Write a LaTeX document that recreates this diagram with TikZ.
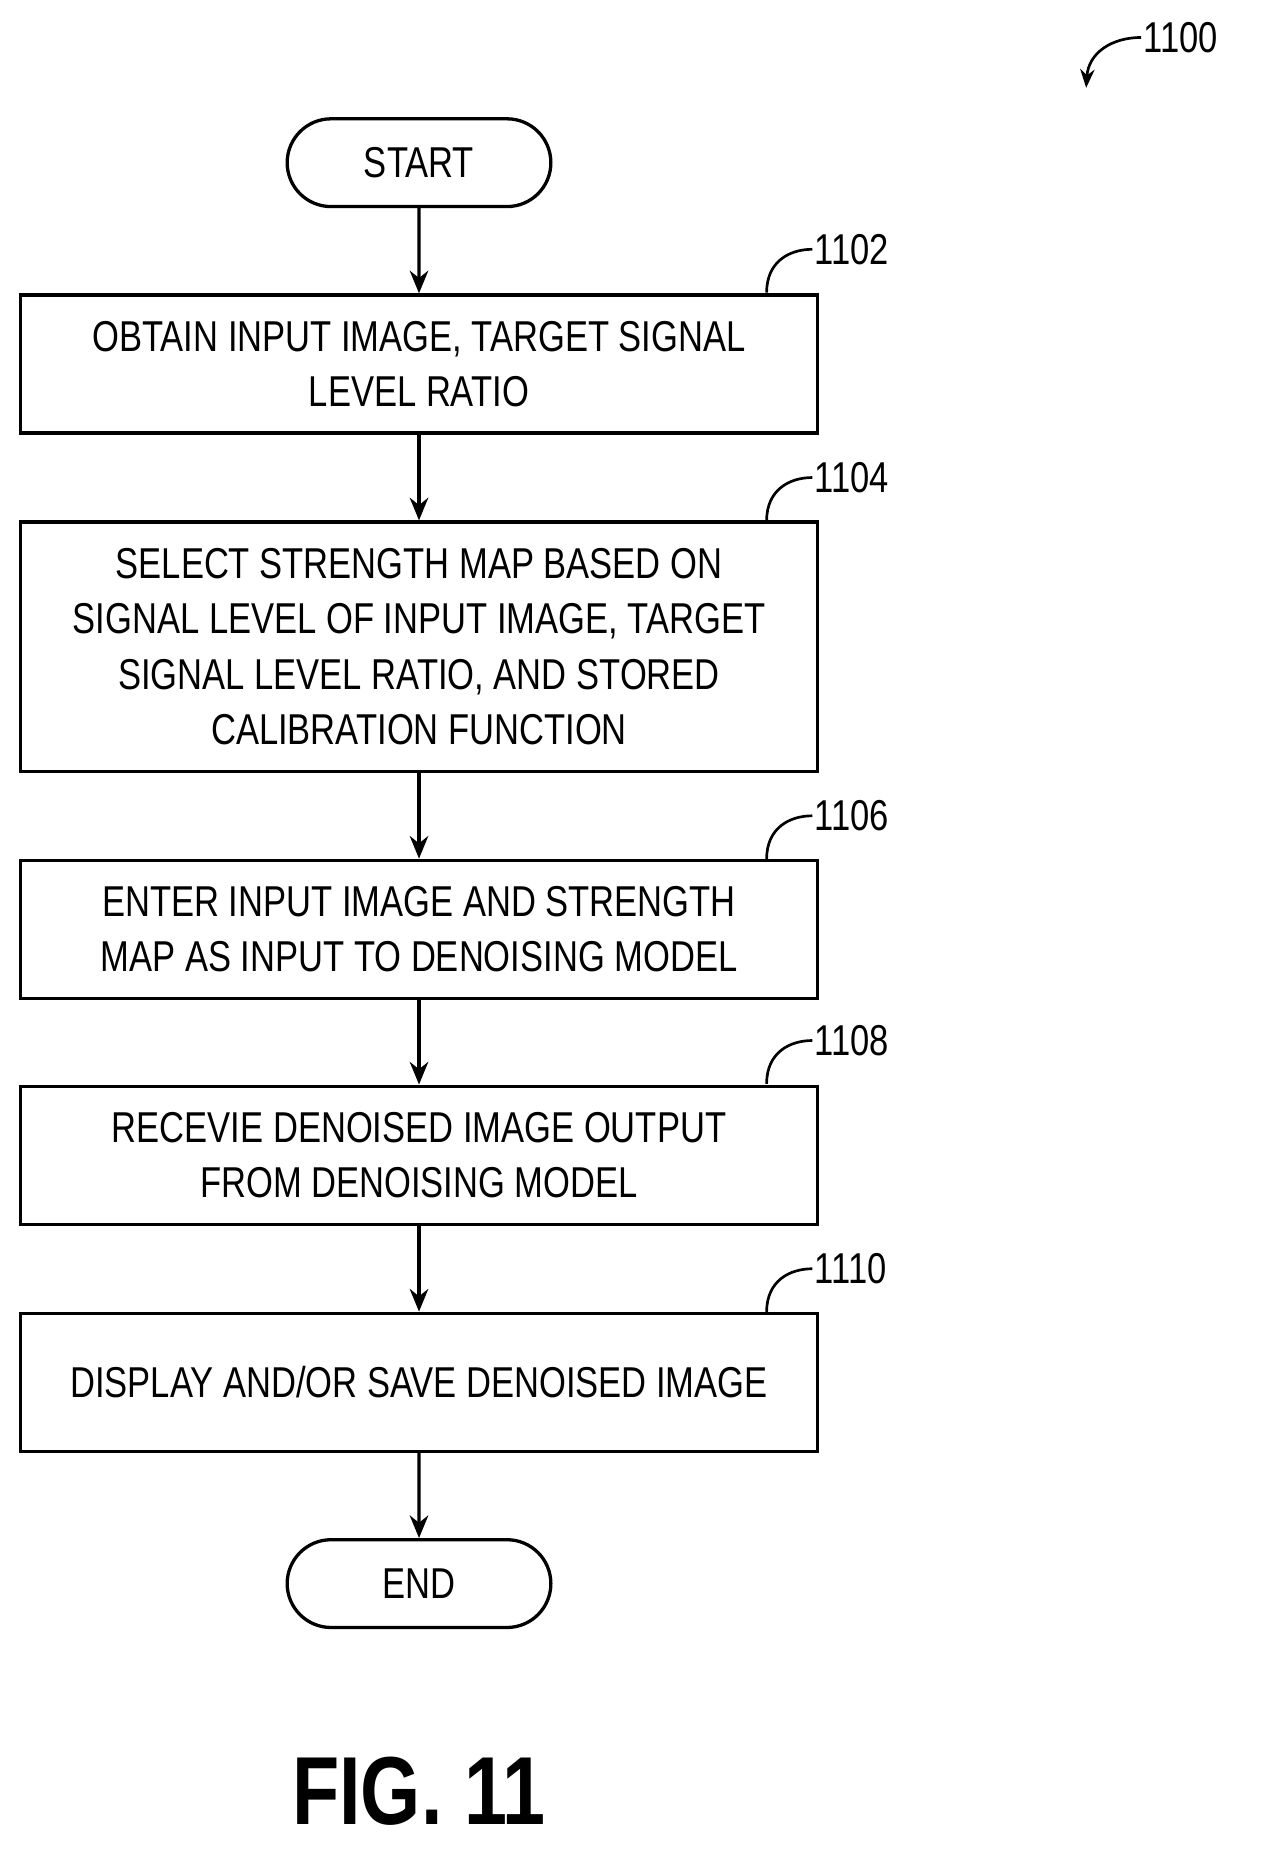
\documentclass[tikz,border=0pt]{standalone}
\usepackage{fontspec}
\setmainfont{Liberation Sans}[FakeStretch=0.8]
\usetikzlibrary{arrows.meta,shapes.misc}
\tikzset{
  stepbox/.style={draw, line width=1.6pt, minimum width=681*0.02cm, align=center,
               font=\fontsize{21}{27}\selectfont, inner sep=0pt},
  term/.style={draw, line width=1.6pt, rounded rectangle, minimum width=237*0.02cm,
               minimum height=75*0.02cm, font=\fontsize{21}{25}\selectfont},
  flow/.style={line width=1.6pt, -{Stealth[length=11pt,width=9pt]}},
  tag/.style={font=\fontsize{21}{25}\selectfont, anchor=west, inner sep=1pt},
  tagline/.style={line width=1.3pt}
}
\begin{document}
\begin{tikzpicture}[x=0.02cm,y=-0.02cm]
  \useasboundingbox (0,0) rectangle (1085,1596);
  % terminals
  \node[term] (start) at (358,139) {START};
  \node[term] (end)   at (358,1353) {END};
  % steps
  \node[stepbox, minimum height=118*0.02cm] (s1102) at (358,311)  {OBTAIN INPUT IMAGE, TARGET SIGNAL\\LEVEL RATIO};
  \node[stepbox, minimum height=213*0.02cm] (s1104) at (358,552.5) {SELECT STRENGTH MAP BASED ON\\SIGNAL LEVEL OF INPUT IMAGE, TARGET\\SIGNAL LEVEL RATIO, AND STORED\\CALIBRATION FUNCTION};
  \node[stepbox, minimum height=118*0.02cm] (s1106) at (358,794)  {ENTER INPUT IMAGE AND STRENGTH\\MAP AS INPUT TO DENOISING MODEL};
  \node[stepbox, minimum height=118*0.02cm] (s1108) at (358,987)  {RECEVIE DENOISED IMAGE OUTPUT\\FROM DENOISING MODEL};
  \node[stepbox, minimum height=118*0.02cm] (s1110) at (358,1181) {DISPLAY AND/OR SAVE DENOISED IMAGE};
  % connectors
  \draw[flow] (start) -- (s1102);
  \draw[flow] (s1102) -- (s1104);
  \draw[flow] (s1104) -- (s1106);
  \draw[flow] (s1106) -- (s1108);
  \draw[flow] (s1108) -- (s1110);
  \draw[flow] (s1110) -- (end);
  % reference tags
  \foreach \n/\y in {1102/213,1104/408,1106/697,1108/889,1110/1084}{
    \node[tag] (t\n) at (694,\y) {\n};
    \draw[tagline] (655,\y+37) .. controls (655,\y+10) and (675,\y) .. (t\n.west);
  }
  \node[tag] (t1100) at (975,32) {1100};
  \coordinate (a1100) at (928,75);
  \draw[tagline, -{Stealth[length=9pt,width=7pt]}] (t1100.west) .. controls (950,32) and (930,45) .. (a1100);
  \node[font=\fontsize{47}{50}\selectfont\bfseries] (fig) at (358,1530) {FIG. 11};
\end{tikzpicture}
\end{document}
